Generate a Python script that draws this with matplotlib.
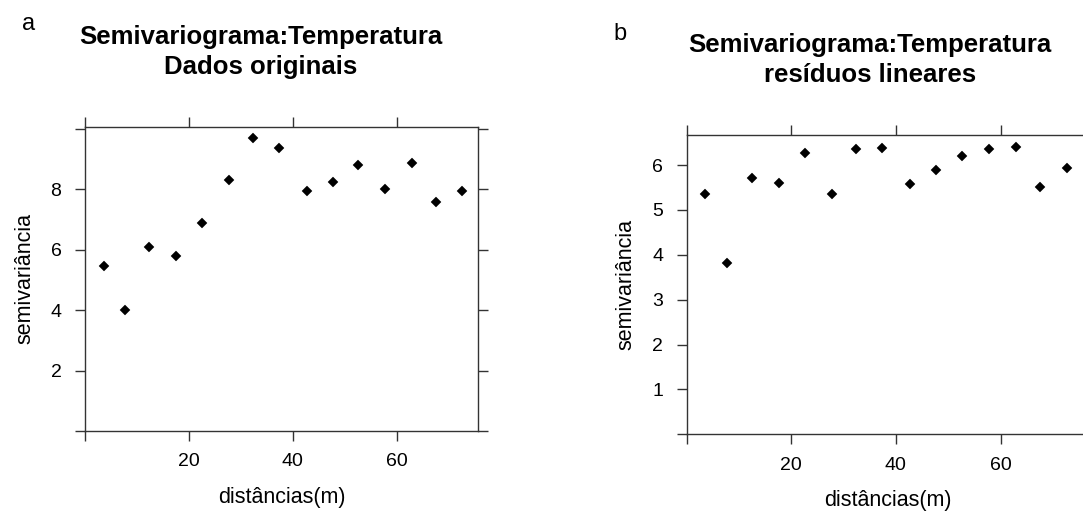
import matplotlib.pyplot as plt

# distâncias (m) das classes do semivariograma
dist = [3.6, 7.7, 12.4, 17.6, 22.6, 27.7, 32.3, 37.4, 42.7, 47.7, 52.6, 57.7, 62.9, 67.6, 72.7]
# semivariância - dados originais
semi_orig = [5.47, 4.02, 6.10, 5.78, 6.89, 8.30, 9.69, 9.38, 7.94, 8.25, 8.80, 8.02, 8.88, 7.58, 7.94]
# semivariância - resíduos lineares
semi_res = [5.36, 3.82, 5.72, 5.61, 6.26, 5.36, 6.35, 6.38, 5.57, 5.90, 6.20, 6.35, 6.41, 5.51, 5.93]

titles = ["Semivariograma:Temperatura\nDados originais",
          "Semivariograma:Temperatura\nresíduos lineares"]
panel_labels = ["a", "b"]
xticks = [0, 20, 40, 60]
xticklabels = ["", "20", "40", "60"]
yticks_a = [0, 2, 4, 6, 8, 10]
yticklabels_a = ["", "2", "4", "6", "8", ""]
yticks_b = [0, 1, 2, 3, 4, 5, 6]
yticklabels_b = ["", "1", "2", "3", "4", "5", "6"]

plt.rcParams['font.family'] = ['Liberation Sans', 'DejaVu Sans']

fig = plt.figure(figsize=(10.83, 5.11), dpi=100)
ax1 = fig.add_axes([0.0785, 0.1566, 0.3629, 0.5949])
ax2 = fig.add_axes([0.634, 0.150, 0.372, 0.5857])

setups = [
    (ax1, semi_orig, (0, 75.7), (0, 10.07), yticks_a, yticklabels_a),
    (ax2, semi_res, (0, 77.0), (0, 6.67), yticks_b, yticklabels_b),
]

for ax, yvals, xl, yl, yt, ytl in setups:
    ax.plot(dist, yvals, linestyle='none', marker='D', color='black',
            markersize=4.6, markeredgewidth=0.3, clip_on=False)
    ax.set_xlim(*xl)
    ax.set_ylim(*yl)
    ax.set_xticks(xticks)
    ax.set_xticklabels(xticklabels)
    ax.set_yticks(yt)
    ax.set_yticklabels(ytl)
    ax.tick_params(direction='out', length=7, width=1.0, color='#333333',
                   labelsize=14, top=True, right=True)
    ax.tick_params(axis='x', pad=9)
    ax.tick_params(axis='y', pad=10)
    for s in ax.spines.values():
        s.set_linewidth(1.0)
        s.set_color('#333333')
    ax.set_xlabel("distâncias(m)", fontsize=15.5, labelpad=12)
    ax.set_ylabel("semivariância", fontsize=15.5, labelpad=11)

fig.text(261 / 1083, 1 - 74 / 511, titles[0], ha='center', va='baseline',
         fontsize=18.5, fontweight='bold', linespacing=1.32)
fig.text(870 / 1083, 1 - 82 / 511, titles[1], ha='center', va='baseline',
         fontsize=18.5, fontweight='bold', linespacing=1.32)
fig.text(22 / 1083, 1 - 30 / 511, panel_labels[0], fontsize=17, va='baseline')
fig.text(613 / 1083, 1 - 40 / 511, panel_labels[1], fontsize=17, va='baseline')

plt.savefig('out.png', dpi=100)
plt.close()
